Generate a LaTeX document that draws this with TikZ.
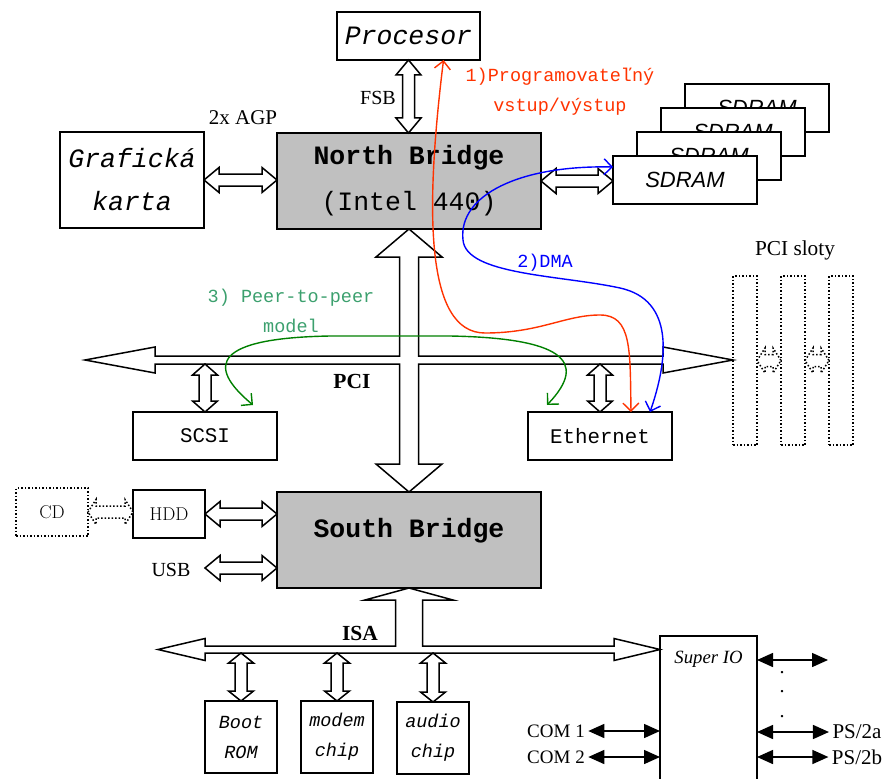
\documentclass[tikz,border=0pt]{standalone}
\usepackage{fontspec}
\setmainfont{Liberation Serif}
\setsansfont{Liberation Sans}
\setmonofont{Liberation Mono}
\usetikzlibrary{arrows.meta,calc}
\definecolor{bridgegray}{RGB}{192,192,192}
\definecolor{piored}{RGB}{255,51,0}
\definecolor{dmablue}{RGB}{0,0,255}
\definecolor{ptpgreen}{RGB}{0,128,0}
\definecolor{ptptext}{RGB}{60,160,110}
\newcommand{\hdarr}[4][]{\draw[hollow,#1] let \p1=(#2), \p2=(#3) in (\p1) -- (\x1+#4pt,\y1+12.5pt) -- (\x1+#4pt,\y1+6pt) -- (\x2-#4pt,\y1+6pt) -- (\x2-#4pt,\y1+12.5pt) -- (\x2,\y1) -- (\x2-#4pt,\y1-12.5pt) -- (\x2-#4pt,\y1-6pt) -- (\x1+#4pt,\y1-6pt) -- (\x1+#4pt,\y1-12.5pt) -- cycle;}
\newcommand{\vdarr}[4][]{\draw[hollow,#1] let \p1=(#2), \p2=(#3) in (\p1) -- (\x1+12.5pt,\y1-#4pt) -- (\x1+6pt,\y1-#4pt) -- (\x1+6pt,\y2+#4pt) -- (\x1+12.5pt,\y2+#4pt) -- (\x1,\y2) -- (\x1-12.5pt,\y2+#4pt) -- (\x1-6pt,\y2+#4pt) -- (\x1-6pt,\y1-#4pt) -- (\x1-12.5pt,\y1-#4pt) -- cycle;}
\tikzset{
  box/.style={draw, line width=1.6pt, fill=white, inner sep=0pt, outer sep=0pt},
  bridge/.style={box, fill=bridgegray, minimum width=264pt, minimum height=96pt},
  hollow/.style={draw, line width=1.5pt, fill=white, line join=miter},
  dotline/.style={line width=1.5pt, dash pattern=on 1.5pt off 2pt},
  slot/.style={draw, dotline, line width=1.7pt, minimum width=24pt, minimum height=169pt, inner sep=0pt, outer sep=0pt},
  flow/.style={line width=1.4pt, {Straight Barb[length=8pt,width=16pt]}-{Straight Barb[length=8pt,width=16pt]}},
  port/.style={line width=1.5pt, {Triangle[length=16pt,width=14pt]}-{Triangle[length=16pt,width=14pt]}},
  lbl/.style={font=\fontsize{20}{24}\selectfont},
  buslbl/.style={font=\bfseries\fontsize{21.5}{26}\selectfont},
  note/.style={font=\ttfamily\fontsize{18.5}{30}\selectfont, align=center}
}
\begin{document}
\begin{tikzpicture}[x=1pt,y=-1pt]
\useasboundingbox (0,0) rectangle (882,778);
\node[box, minimum width=143pt, minimum height=48pt, font=\ttfamily\itshape\fontsize{26.5}{30}\selectfont] (proc) at (408.5,36) {Procesor};
\node[bridge, align=center, font=\ttfamily\fontsize{26.5}{46}\selectfont] (nb) at (409,181) {\textbf{North Bridge}\\(Intel 440)};
\node[box, minimum width=144pt, minimum height=96pt, align=center, font=\ttfamily\itshape\fontsize{26.5}{43}\selectfont] (graf) at (132,180) {Grafická\\karta};
\foreach \k in {3,2,1,0}
  \node[box, minimum width=144pt, minimum height=48pt, font=\sffamily\itshape\fontsize{22}{26}\selectfont] (sdram\k) at ({685+24*\k},{180-24*\k}) {SDRAM};
\node[box, minimum width=144pt, minimum height=48pt, font=\ttfamily\fontsize{20.8}{24}\selectfont] (scsi) at (205,436) {SCSI};
\node[box, minimum width=144pt, minimum height=48pt, font=\ttfamily\fontsize{20.8}{24}\selectfont] (eth) at (600,436) {Ethernet};
\node[bridge] (sb) at (409,540) {};
\node[font=\ttfamily\bfseries\fontsize{26.5}{30}\selectfont] (sbtext) at (409,531) {South Bridge};
\node[box, minimum width=72pt, minimum height=48pt, font=\fontfamily{lmr}\fontsize{18.5}{22}\selectfont] (hdd) at (169,514) {HDD};
\node[box, dotline, minimum width=72pt, minimum height=48pt, font=\fontfamily{lmr}\fontsize{18.5}{22}\selectfont] (cd) at (52,512) {CD};
\node[box, minimum width=72pt, minimum height=72pt, align=center, font=\ttfamily\itshape\fontsize{18.5}{30}\selectfont] (boot) at (241,737) {Boot\\ROM};
\node[box, minimum width=72pt, minimum height=72pt, align=center, font=\ttfamily\itshape\fontsize{18.5}{30}\selectfont] (modem) at (337,737) {modem\\chip};
\node[box, minimum width=72pt, minimum height=72pt, align=center, font=\ttfamily\itshape\fontsize{18.5}{30}\selectfont] (audio) at (433,738) {audio\\chip};
\node[box, minimum width=97pt, minimum height=170pt, anchor=north] (sio) at (708.5,636) {};
\node[font=\itshape\fontsize{18.7}{22}\selectfont] (siotext) at (708.5,659) {Super IO};
\foreach \i/\x in {1/745,2/793,3/841}
  \node[slot] (slot\i) at (\x,360.5) {};
\node[lbl, font=\fontsize{21.3}{24}\selectfont] (sloty) at (795,250) {PCI sloty};

\coordinate (pcil) at (85,360); \coordinate (pcir) at (733,360); \coordinate (pcibot) at (0,364);
\coordinate (isal) at (158,649.5); \coordinate (isar) at (sio.west |- isal); \coordinate (isabot) at (0,653);
\coordinate (usbport) at (205,568); \coordinate (sioport) at (828,660);

\draw[hollow] let \p1=(nb.south), \p2=(sb.north), \p3=(pcil), \p4=(pcir) in
  (\p1) -- (\x1+33pt,\y1-28pt) -- (\x1+9.5pt,\y1-28pt) -- (\x1+9.5pt,\y3+4pt) -- (\x4-70pt,\y3+4pt) -- (\x4-70pt,\y3+13pt) -- (\p4)
  -- (\x4-70pt,\y3-13pt) -- (\x4-70pt,\y3-4pt) -- (\x1+9.5pt,\y3-4pt) -- (\x1+9.5pt,\y2+28pt) -- (\x1+33pt,\y2+28pt) -- (\x1,\y2)
  -- (\x1-33pt,\y2+28pt) -- (\x1-9.5pt,\y2+28pt) -- (\x1-9.5pt,\y3-4pt) -- (\x3+70pt,\y3-4pt) -- (\x3+70pt,\y3-13pt) -- (\p3)
  -- (\x3+70pt,\y3+13pt) -- (\x3+70pt,\y3+4pt) -- (\x1-9.5pt,\y3+4pt) -- (\x1-9.5pt,\y1-28pt) -- (\x1-33pt,\y1-28pt) -- cycle;
\draw[hollow] let \p1=(sb.south), \p3=(isal), \p4=(isar) in
  (\p1) -- (\x1+44pt,\y1-12pt) -- (\x1+13.5pt,\y1-12pt) -- (\x1+13.5pt,\y3+3.5pt) -- (\x4-46pt,\y3+3.5pt) -- (\x4-46pt,\y3+11pt) -- (\p4)
  -- (\x4-46pt,\y3-11pt) -- (\x4-46pt,\y3-3.5pt) -- (\x3+47pt,\y3-3.5pt) -- (\x3+47pt,\y3-11pt) -- (\p3)
  -- (\x3+47pt,\y3+11pt) -- (\x3+47pt,\y3+3.5pt) -- (\x1-13.5pt,\y3+3.5pt) -- (\x1-13.5pt,\y1-12pt) -- (\x1-44pt,\y1-12pt) -- cycle;
\node[buslbl] (pci) at (352,381) {PCI};
\node[buslbl] (isa) at (360,633) {ISA};

\vdarr{proc.south}{nb.north}{15}
\hdarr{graf.east}{nb.west}{15}
\hdarr{nb.east}{sdram0.west}{15}
\vdarr{scsi.north |- pcibot}{scsi.north}{11}
\vdarr{eth.north |- pcibot}{eth.north}{11}
\hdarr{hdd.east}{hdd.east -| sb.west}{15}
\hdarr{usbport}{usbport -| sb.west}{15}
\hdarr[dotline]{cd.east}{cd.east -| hdd.west}{8}
\hdarr[dotline]{slot1.east}{slot2.west}{8}
\hdarr[dotline]{slot2.east}{slot3.west}{8}
\foreach \c in {boot,modem,audio}{\vdarr{\c.north |- isabot}{\c.north}{10}}

\node[lbl] (fsb) at (378,98) {FSB};
\node[lbl, font=\fontsize{21}{24}\selectfont] (agp) at (243,118) {2x AGP};
\node[lbl] (usb) at (171,570) {USB};
\node[lbl, font=\fontsize{19}{22}\selectfont] (com1) at (556,731) {COM 1};
\node[lbl, font=\fontsize{19}{22}\selectfont] (com2) at (556,757) {COM 2};
\node[lbl, font=\fontsize{21}{24}\selectfont] (ps2a) at (857,732) {PS/2a};
\node[lbl, font=\fontsize{21}{24}\selectfont] (ps2b) at (857,757) {PS/2b};
\foreach \y [count=\i] in {673,692,717}
  \node[lbl] (dot\i) at (782,\y) {.};
\draw[port] (com1.east) -- (com1.east -| sio.west);
\draw[port] (com2.east) -- (com2.east -| sio.west);
\draw[port] (sio.east |- ps2a.west) -- (ps2a.west);
\draw[port] (sio.east |- ps2b.west) -- (ps2b.west);
\draw[port] (sio.east |- sioport) -- (sioport);

\draw[flow, piored] ([xshift=35pt]proc.south) .. controls (425,210) and (425,333) .. (485,333) .. controls (540,333) and (565,315) .. (600,315) .. controls (632,315) and (630,350) .. ([xshift=31pt]eth.north);
\draw[flow, dmablue] ([yshift=13pt]sdram0.west) .. controls (520,165) and (458,195) .. (463,240) .. controls (466,275) and (560,275) .. (620,288) .. controls (675,300) and (668,360) .. ([xshift=50pt]eth.north);
\draw[flow, ptpgreen] ([xshift=48pt,yshift=7pt]scsi.north) .. controls (205,365) and (215,338) .. (330,336) -- (450,336) .. controls (560,338) and (590,360) .. ([xshift=-53pt,yshift=7pt]eth.north);
\node[note, piored] (pio) at (560,92) {1)Programovateľný\\vstup/výstup};
\node[note, dmablue] (dma) at (545,263) {2)DMA};
\node[note, ptptext] (p2p) at (291,311) {3) Peer-to-peer\\model};
\end{tikzpicture}
\end{document}
